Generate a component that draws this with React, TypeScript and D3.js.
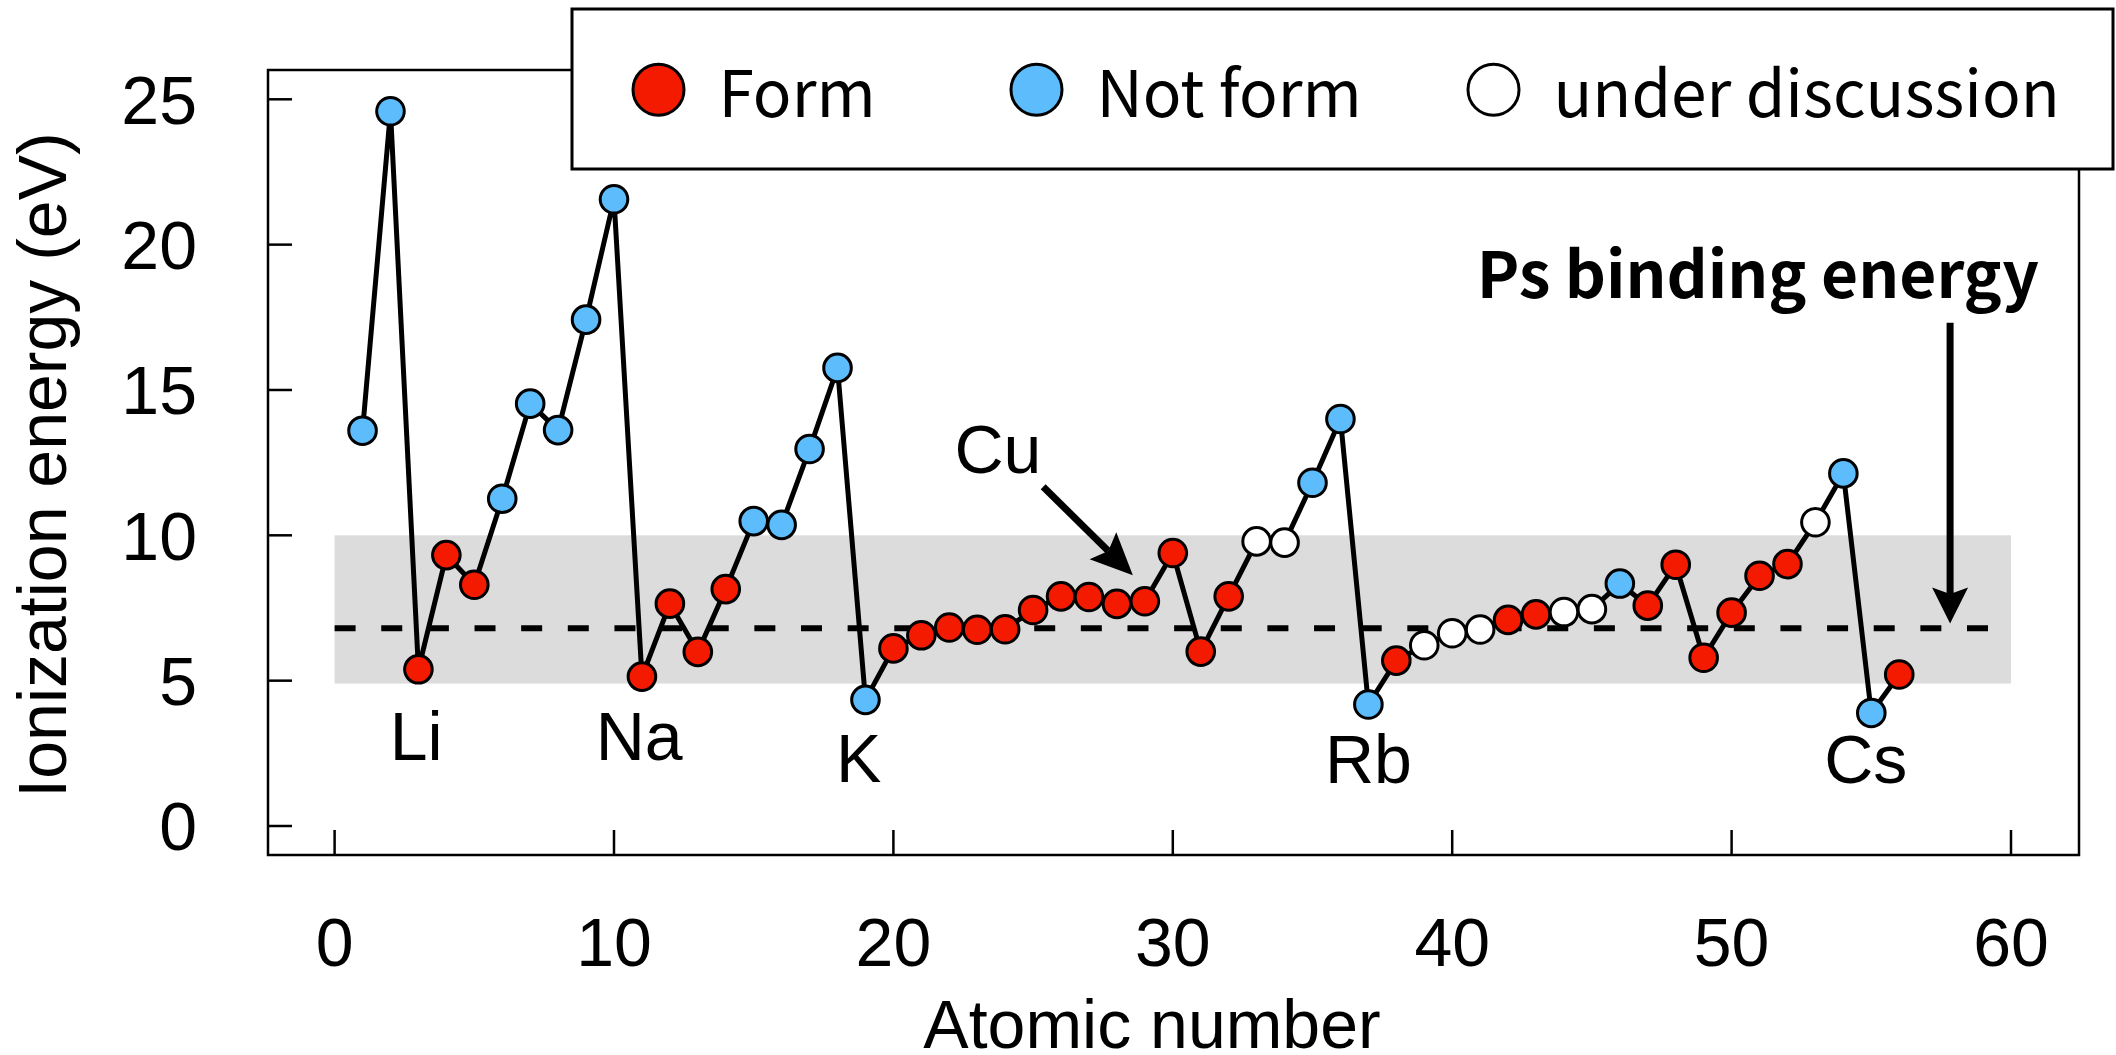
import React from "react";
import * as d3 from "d3";

// ---- data ----
const atomicNumbers = [
  1, 2, 3, 4, 5, 6, 7, 8, 9, 10, 11, 12, 13, 14, 15, 16, 17, 18, 19, 20,
  21, 22, 23, 24, 25, 26, 27, 28, 29, 30, 31, 32, 33, 34, 35, 36, 37, 38, 39, 40,
  41, 42, 43, 44, 45, 46, 47, 48, 49, 50, 51, 52, 53, 54, 55, 56,
];
const ionizationEnergy = [
  13.6, 24.59, 5.39, 9.32, 8.3, 11.26, 14.53, 13.62, 17.42, 21.56,
  5.14, 7.65, 5.99, 8.15, 10.49, 10.36, 12.97, 15.76, 4.34, 6.11,
  6.56, 6.83, 6.75, 6.77, 7.43, 7.9, 7.88, 7.64, 7.73, 9.39,
  6.0, 7.9, 9.79, 9.75, 11.81, 14.0, 4.18, 5.69, 6.22, 6.63,
  6.76, 7.09, 7.28, 7.36, 7.46, 8.34, 7.58, 8.99, 5.79, 7.34,
  8.61, 9.01, 10.45, 12.13, 3.89, 5.21,
];
// F = Form, N = Not form, U = under discussion
const status = [
  "N", "N", "F", "F", "F", "N", "N", "N", "N", "N",
  "F", "F", "F", "F", "N", "N", "N", "N", "N", "F",
  "F", "F", "F", "F", "F", "F", "F", "F", "F", "F",
  "F", "F", "U", "U", "N", "N", "N", "F", "U", "U",
  "U", "F", "F", "U", "U", "N", "F", "F", "F", "F",
  "F", "F", "U", "N", "N", "F",
];
const legendKeys = ["F", "N", "U"];
const legendLabels = ["Form", "Not form", "under discussion"];
const xTicks = [0, 10, 20, 30, 40, 50, 60];
const yTicks = [0, 5, 10, 15, 20, 25];
const bandRange = [4.9, 10.0];
const psBindingEnergy = 6.8;
const elementLabels = ["Li", "Na", "K", "Rb", "Cs"];
const elementLabelX = [2.92, 10.9, 18.76, 37.0, 54.8];
const elementLabelY = [2.27, 2.27, 1.51, 1.48, 1.48];

// ---- styles ----
const colors: Record<string, string> = { F: "#f41a00", N: "#5cbcfc", U: "#ffffff" };
const sansFont = "'Liberation Sans', Arial, Helvetica, sans-serif";
const cjkFont = "'Noto Sans CJK JP', 'Noto Sans', sans-serif";

const W = 2116;
const H = 1055;
const frame = { left: 268, right: 2079, top: 70, bottom: 855 };

export default function App() {
  const x = d3.scaleLinear().domain([0, 60]).range([334.6, 2011]);
  const y = d3.scaleLinear().domain([0, 25]).range([826, 99.3]);

  const pts = atomicNumbers.map((z, i) => ({ z, e: ionizationEnergy[i], s: status[i] }));
  const line = d3
    .line<{ z: number; e: number }>()
    .x((d) => x(d.z))
    .y((d) => y(d.e));

  const arrow = (x1: number, y1: number, x2: number, y2: number, headLen: number, headHalf: number) => {
    const dx = x2 - x1;
    const dy = y2 - y1;
    const L = Math.hypot(dx, dy);
    const ux = dx / L;
    const uy = dy / L;
    const px = -uy;
    const py = ux;
    const bx = x2 - ux * headLen;
    const by = y2 - uy * headLen;
    const nx = x2 - ux * headLen * 0.82;
    const ny = y2 - uy * headLen * 0.82;
    return {
      shaft: `M${x1},${y1}L${nx},${ny}`,
      head: `M${x2},${y2}L${bx + px * headHalf},${by + py * headHalf}L${nx},${ny}L${bx - px * headHalf},${by - py * headHalf}Z`,
    };
  };

  const cuArrow = arrow(x(25.36), y(11.67), x(28.57), y(8.63), 42, 19);
  const psArrow = arrow(x(57.82), y(17.31), x(57.82), y(6.97), 36, 18);

  return (
    <svg
      width={W}
      height={H}
      style={{ position: "absolute", left: 0, top: 0, background: "#fff" }}
      fontFamily={sansFont}
    >
      {/* grey band */}
      <rect
        x={x(0)}
        y={y(bandRange[1])}
        width={x(60) - x(0)}
        height={y(bandRange[0]) - y(bandRange[1])}
        fill="#dcdcdc"
      />
      {/* Ps binding energy dashed line */}
      <line
        x1={x(0)}
        x2={x(60)}
        y1={y(psBindingEnergy)}
        y2={y(psBindingEnergy)}
        stroke="#000"
        strokeWidth={6}
        strokeDasharray="21 25.64"
      />
      {/* frame */}
      <rect
        x={frame.left}
        y={frame.top}
        width={frame.right - frame.left}
        height={frame.bottom - frame.top}
        fill="none"
        stroke="#000"
        strokeWidth={2.5}
      />
      {/* ticks */}
      {yTicks.map((t) => (
        <g key={"y" + t}>
          <line x1={frame.left} x2={frame.left + 24} y1={y(t)} y2={y(t)} stroke="#000" strokeWidth={2.5} />
          <text x={197} y={y(t)} dy="0.36em" textAnchor="end" fontSize={68}>
            {t}
          </text>
        </g>
      ))}
      {xTicks.map((t) => (
        <g key={"x" + t}>
          <line x1={x(t)} x2={x(t)} y1={frame.bottom} y2={frame.bottom - 25} stroke="#000" strokeWidth={2.5} />
          <text x={x(t)} y={966} textAnchor="middle" fontSize={68}>
            {t}
          </text>
        </g>
      ))}
      {/* axis titles */}
      <text x={1152} y={1048} textAnchor="middle" fontSize={68}>
        Atomic number
      </text>
      <text transform="translate(66,465) rotate(-90)" textAnchor="middle" fontSize={68}>
        Ionization energy (eV)
      </text>
      {/* connecting line */}
      <path d={line(pts) || ""} fill="none" stroke="#000" strokeWidth={5} strokeLinejoin="round" />
      {/* markers */}
      {pts.map((p) => (
        <circle key={p.z} cx={x(p.z)} cy={y(p.e)} r={13.8} fill={colors[p.s]} stroke="#000" strokeWidth={3} />
      ))}
      {/* element labels */}
      {elementLabels.map((l, i) => (
        <text key={l} x={x(elementLabelX[i])} y={y(elementLabelY[i])} textAnchor="middle" fontSize={68}>
          {l}
        </text>
      ))}
      {/* Cu annotation */}
      <text x={x(23.74)} y={y(12.14)} textAnchor="middle" fontSize={68}>
        Cu
      </text>
      <path d={cuArrow.shaft} stroke="#000" strokeWidth={7} fill="none" />
      <path d={cuArrow.head} fill="#000" />
      {/* Ps binding energy annotation */}
      <text x={x(50.94)} y={y(18.16)} textAnchor="middle" fontSize={64} fontWeight={700} fontFamily={cjkFont}>
        Ps binding energy
      </text>
      <path d={psArrow.shaft} stroke="#000" strokeWidth={7} fill="none" />
      <path d={psArrow.head} fill="#000" />
      {/* legend */}
      <rect x={572} y={9} width={2113 - 572} height={160} fill="#fff" stroke="#000" strokeWidth={3} />
      {legendKeys.map((k, i) => {
        const cx = [658.5, 1036.5, 1493.5][i];
        return (
          <g key={k}>
            <circle cx={cx} cy={89.7} r={25.5} fill={colors[k]} stroke="#000" strokeWidth={3} />
            <text x={cx + 60} y={117} fontSize={64} fontFamily={cjkFont}>
              {legendLabels[i]}
            </text>
          </g>
        );
      })}
    </svg>
  );
}
